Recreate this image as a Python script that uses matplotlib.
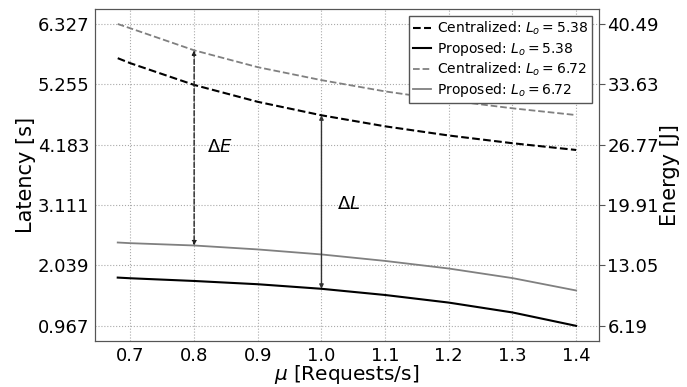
import numpy as np
import matplotlib
matplotlib.use("Agg")
import matplotlib.pyplot as plt

# Values (latency axis units)
mu = [0.68, 0.7, 0.8, 0.9, 1.0, 1.1, 1.2, 1.3, 1.4]
cent_538 = [5.72, 5.63, 5.245, 4.945, 4.706, 4.51, 4.347, 4.21, 4.09]
prop_538 = [1.824, 1.812, 1.764, 1.706, 1.625, 1.515, 1.38, 1.205, 0.967]
cent_672 = [6.327, 6.25, 5.86, 5.56, 5.33, 5.13, 4.97, 4.83, 4.71]
prop_672 = [2.447, 2.435, 2.394, 2.324, 2.235, 2.12, 1.985, 1.815, 1.595]

lat_ticks = np.linspace(0.967, 6.327, 6)
energy_ticks = np.linspace(6.19, 40.49, 6)

fig, ax = plt.subplots(figsize=(6.87, 3.87), dpi=100)
fig.subplots_adjust(left=0.138, right=0.872, top=0.977, bottom=0.119)

ax.plot(mu, cent_538, color="black", linestyle="--", lw=1.5, label="Centralized: $L_o = 5.38$")
ax.plot(mu, prop_538, color="black", linestyle="-", lw=1.5, label="Proposed: $L_o = 5.38$")
ax.plot(mu, cent_672, color="gray", linestyle="--", lw=1.3, label="Centralized: $L_o = 6.72$")
ax.plot(mu, prop_672, color="gray", linestyle="-", lw=1.3, label="Proposed: $L_o = 6.72$")

# delta arrows
i_e = mu.index(0.8)
i_l = mu.index(1.0)
ax.annotate("", xy=(0.8, prop_672[i_e]), xytext=(0.8, cent_672[i_e]),
            arrowprops=dict(arrowstyle="<|-|>", linestyle="--", color="#222222",
                            lw=1, mutation_scale=6, shrinkA=0, shrinkB=0))
ax.annotate("", xy=(1.0, prop_538[i_l]), xytext=(1.0, cent_538[i_l]),
            arrowprops=dict(arrowstyle="<|-|>", color="#333333",
                            lw=1, mutation_scale=6, shrinkA=0, shrinkB=0))
ax.text(0.82, 4.14, r"$\Delta E$", fontsize=13, va="center", ha="left")
ax.text(1.025, 3.135, r"$\Delta L$", fontsize=13, va="center", ha="left")

ax.set_yticks(lat_ticks)
ax.set_yticklabels([f"{t:.3f}" for t in lat_ticks])
ax.set_xticks([0.7, 0.8, 0.9, 1.0, 1.1, 1.2, 1.3, 1.4])
ax.tick_params(axis="both", labelsize=13, length=0, pad=4)
ax.grid(True, linestyle=":", color="#aaaaaa", lw=0.8)
ax.set_xlabel(r"$\mu$ [Requests/s]", fontsize=14.5, labelpad=-1)
ax.set_ylabel("Latency [s]", fontsize=15, labelpad=1)
for sp in ax.spines.values():
    sp.set_color("#555555")

leg = ax.legend(loc="upper right", fontsize=10, fancybox=False, framealpha=1,
                edgecolor="#555555", handlelength=1.3, borderpad=0.3,
                labelspacing=0.2, handletextpad=0.4)
leg.get_frame().set_linewidth(1.0)

# right axis, aligned with latency ticks
lo, hi = ax.get_ylim()
scale = (energy_ticks[-1] - energy_ticks[0]) / (lat_ticks[-1] - lat_ticks[0])
ax2 = ax.twinx()
ax2.set_ylim(energy_ticks[0] + (lo - lat_ticks[0]) * scale,
             energy_ticks[0] + (hi - lat_ticks[0]) * scale)
ax2.set_yticks(energy_ticks)
ax2.set_yticklabels([f"{t:.2f}" for t in energy_ticks])
ax2.tick_params(axis="y", labelsize=13, length=4, color="#555555", pad=2)
ax2.set_ylabel("Energy [J]", fontsize=15, labelpad=1)
for sp in ax2.spines.values():
    sp.set_color("#555555")

fig.savefig("out.png", dpi=100)
